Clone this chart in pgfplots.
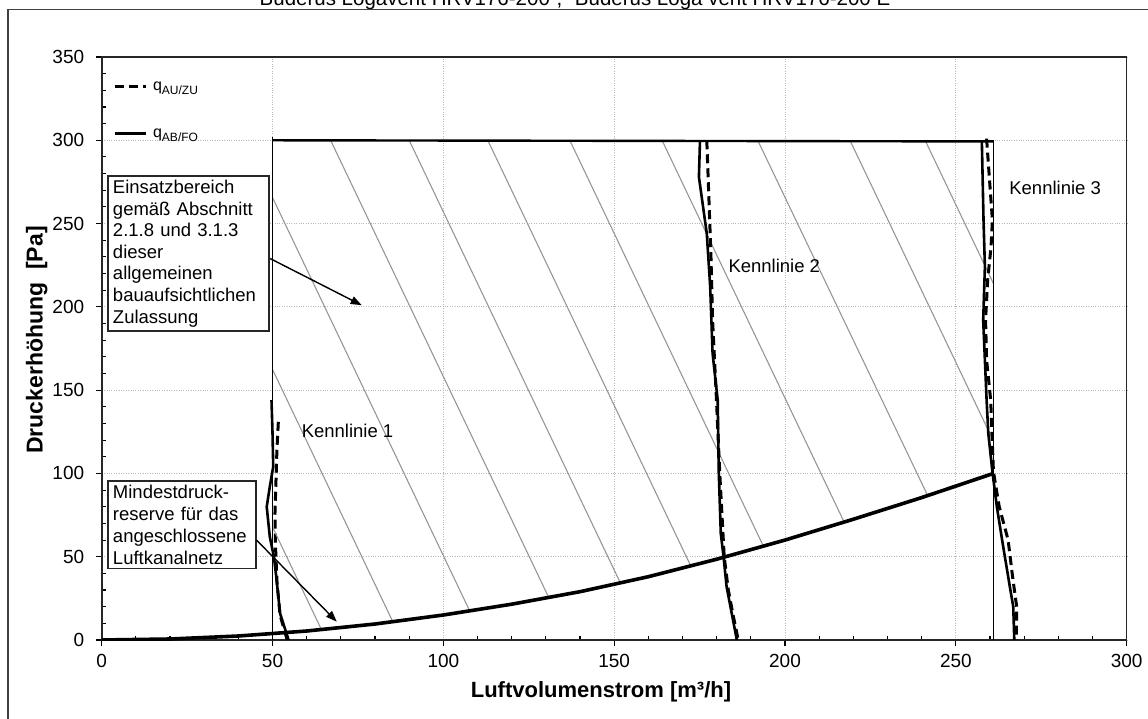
\documentclass[border=0pt]{standalone}
\usepackage{pgfplots}
\pgfplotsset{compat=1.18}
\usepackage{fontspec}
\setmainfont{Liberation Sans}
\usetikzlibrary{arrows.meta}
\definecolor{hatch}{RGB}{150,150,150}
\definecolor{gridc}{RGB}{185,185,185}
\begin{document}
\begin{tikzpicture}
\begin{axis}[
  at={(0pt,0pt)}, anchor=south west,
  scale only axis, width=1025pt, height=583pt,
  xmin=0, xmax=300, ymin=0, ymax=350,
  xtick={0,50,...,300}, ytick={0,50,...,350},
  minor x tick num=4, minor y tick num=4,
  xtick pos=bottom, ytick pos=left,
  tick align=outside,
  major tick length=6pt, minor tick length=-4.5pt,
  tick style={line width=1.1pt, black},
  axis line style={line width=1.6pt, black!85},
  grid=major,
  major grid style={dotted, gridc, line width=0.9pt},
  ticklabel style={font=\fontsize{19}{19}\selectfont},
  /pgf/number format/assume math mode=true,
  yticklabel style={xshift=-8pt},
  xticklabel style={yshift=-5pt},
  clip mode=individual,
  legend style={at={(rel axis cs:0.008,0.965)}, anchor=north west, draw=none, fill=none,
    font=\fontsize{16}{16}\selectfont, row sep=33pt, cells={anchor=west},
    nodes={inner xsep=6pt}},
  legend image code/.code={\draw[#1] (0pt,0pt) -- (31pt,0pt);},
]
% Kennlinie 1
\addplot[black, line width=3pt, dash pattern=on 9pt off 5pt] coordinates {
 (51.7,131) (51.3,115) (51.0,95) (50.7,75) (50.9,55) (51.3,35) (52.2,15) (54.3,0)};
\addlegendentry{q\raisebox{-4pt}{\fontsize{12}{12}\selectfont AU/ZU}}
\addplot[black, line width=2.6pt] coordinates {
 (49.7,144) (50.0,124) (50.2,104) (49.2,92) (48.3,80) (49.2,62) (50.4,50) (51.2,36) (52.2,16) (54.7,0)};
\addlegendentry{q\raisebox{-4pt}{\fontsize{12}{12}\selectfont AB/FO}}
% hatching
\addplot[hatch, line width=1.1pt, forget plot] coordinates {(50,67.8) (64.3,6.3)};
\addplot[hatch, line width=1.1pt, forget plot] coordinates {(50,162.4) (85.2,11)};
\addplot[hatch, line width=1.1pt, forget plot] coordinates {(50,265.6) (107.75,17.3)};
\addplot[hatch, line width=1.1pt, forget plot] coordinates {(67,300) (130.85,25.5)};
\addplot[hatch, line width=1.1pt, forget plot] coordinates {(90,300) (151.8,34.3)};
\addplot[hatch, line width=1.1pt, forget plot] coordinates {(113,300) (172.4,44.5)};
\addplot[hatch, line width=1.1pt, forget plot] coordinates {(137,300) (193.65,56.4)};
\addplot[hatch, line width=1.1pt, forget plot] coordinates {(164,300) (217.3,70.8)};
\addplot[hatch, line width=1.1pt, forget plot] coordinates {(192,300) (241.8,86.5)};
\addplot[hatch, line width=1.1pt, forget plot] coordinates {(219,300) (261,119.4)};
\addplot[hatch, line width=1.1pt, forget plot] coordinates {(241,300) (261,214)};
% boundary of the operating range
\addplot[black, line width=1.5pt, forget plot] coordinates {(50,0) (50,302)};
\addplot[black, line width=1.5pt, forget plot] coordinates {(261,0) (261,300)};
\addplot[black, line width=2.4pt, forget plot] coordinates {(50,300) (261,299.3)};
% system curve
\addplot[black, line width=3.6pt, forget plot] coordinates {
 (0,0) (20,0.6) (40,2.4) (60,5.4) (80,9.6) (100,15) (120,21.5) (140,29) (160,38)
 (180,48.5) (200,60) (220,72.5) (240,85.5) (261,100)};
% Kennlinie 2
\addplot[black, line width=2.6pt, forget plot] coordinates {
 (175.1,299) (174.8,278) (177.1,244) (178.1,212) (178.8,172) (180.3,144) (180.6,101)
 (181.2,64) (182.0,50) (182.9,32) (184.4,16) (185.9,0)};
\addplot[black, line width=3pt, dash pattern=on 9pt off 5pt, forget plot] coordinates {
 (177.1,300) (177.6,272) (178.3,232) (178.8,192) (179.8,150) (180.9,100) (182.2,50)
 (183.4,30) (184.8,15) (186.3,0)};
% Kennlinie 3
\addplot[black, line width=2.6pt, forget plot] coordinates {
 (257.6,300) (258.1,252) (258.5,224) (258.0,192) (258.5,168) (259.0,144) (259.5,124)
 (260.7,101) (262.0,80) (263.7,58) (265.8,32) (266.8,20) (267.1,0)};
\addplot[black, line width=3pt, dash pattern=on 9pt off 5pt, forget plot] coordinates {
 (259.0,301) (260.0,272) (260.7,252) (260.3,236) (259.3,216) (258.7,192) (259.0,168)
 (260.2,144) (261.0,101) (262.7,80) (265.3,60) (266.6,38) (267.8,20) (267.7,0)};
% labels
\node[anchor=west, font=\fontsize{18.5}{18.5}\selectfont, inner sep=0pt] at (axis cs:58.5,125.4) {Kennlinie 1};
\node[anchor=west, font=\fontsize{18.5}{18.5}\selectfont, inner sep=0pt] at (axis cs:183.4,224.4) {Kennlinie 2};
\node[anchor=west, font=\fontsize{18.5}{18.5}\selectfont, inner sep=0pt] at (axis cs:265.6,271.2) {Kennlinie 3};
% annotation boxes
\node[draw=black!85, line width=1.6pt, fill=white, anchor=north west, align=left,
  inner xsep=5pt, inner ysep=4pt, text width=151pt,
  font=\fontsize{18.5}{21.6}\selectfont] at (axis cs:1.6,279)
  {Einsatzbereich\\gemäß Abschnitt\\2.1.8 und 3.1.3\\dieser\\allgemeinen\\bauaufsichtlichen\\Zulassung};
\node[draw=black!85, line width=1.6pt, fill=white, anchor=north west, align=left,
  inner xsep=5pt, inner ysep=4pt, text width=138pt,
  font=\fontsize{18.5}{22}\selectfont] at (axis cs:1.6,96)
  {Mindestdruck-\\reserve für das\\angeschlossene\\Luftkanalnetz};
\draw[-{Triangle[length=11pt,width=8pt]}, line width=1.4pt] (axis cs:49.3,229) -- (axis cs:76.1,201);
\draw[-{Triangle[length=11pt,width=8pt]}, line width=1.4pt] (axis cs:45.3,60) -- (axis cs:68.8,11);
\end{axis}
% axis labels
\node[font=\bfseries\fontsize{22}{22}\selectfont] at (499.3pt,-52pt) {Luftvolumenstrom [m³/h]};
\node[rotate=90, font=\bfseries\fontsize{23}{23}\selectfont] at (-65pt,300pt) {Druckerhöhung\ \ [Pa]};
% title and frame
\node[anchor=base, font=\fontsize{20.5}{20.5}\selectfont] at (473.3pt,634pt)
  {Buderus Logavent HRV176-200", "Buderus Loga vent HRV176-200 E};
\draw[black!75, line width=1.6pt] (-93.7pt,-90pt) -- (-93.7pt,630.5pt) -- (1060pt,630.5pt);
\pgfresetboundingbox
\useasboundingbox (-101.7pt,-78pt) rectangle (1046.3pt,640pt);
\end{tikzpicture}
\end{document}
